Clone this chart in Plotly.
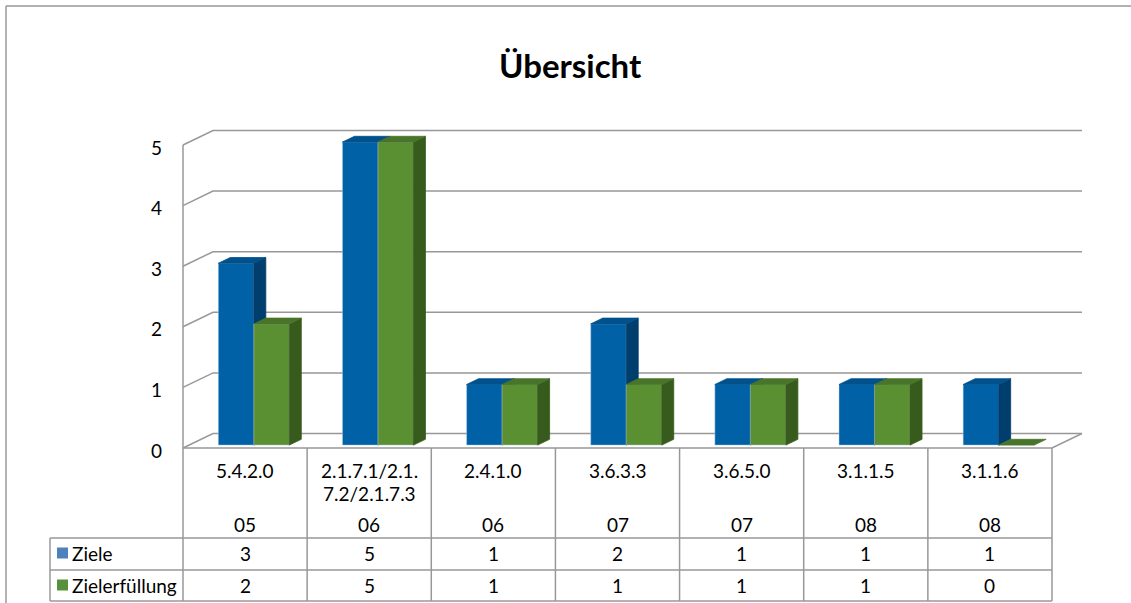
import plotly.graph_objects as go

# ---------------- data ----------------
categories = ["5.4.2.0", "2.1.7.1/2.1.7.2/2.1.7.3", "2.4.1.0", "3.6.3.3", "3.6.5.0", "3.1.1.5", "3.1.1.6"]
months = ["05", "06", "06", "07", "07", "08", "08"]
ziele = [3, 5, 1, 2, 1, 1, 1]
zielerfuellung = [2, 5, 1, 1, 1, 1, 0]
y_ticks = [0, 1, 2, 3, 4, 5]
series_names = ["Ziele", "Zielerfüllung"]
title_text = "Übersicht"

# ---------------- geometry / style ----------------
W, H = 1131, 603
X0_PX, X7_PX = 183, 1052          # front plane left / right edge (pixels)
Y0_PX, UNIT_PX = 448, 60.6        # front floor pixel and pixels per value unit
N = len(categories)
CAT_PX = (X7_PX - X0_PX) / N
x_range = [-X0_PX / CAT_PX, N + (W - X7_PX) / CAT_PX]
y_range = [-(H - Y0_PX) / UNIT_PX, Y0_PX / UNIT_PX]
DX = 30 / CAT_PX                  # full depth offset in x units
DY = 14.5 / UNIT_PX               # full depth offset in y units
GROUP_LEFT = 0.236
BAR_W = 0.286
FONT = "Lato, 'Open Sans', sans-serif"
FS = 19
GRID = "#989898"

face_colors = [
    {"front": "#0061A6", "side": "#003E6D", "top": "#00518C"},
    {"front": "#5A8F32", "side": "#375A1D", "top": "#48752A"},
]
key_colors = ["#4F81BD", "#55903A"]


def px_x(p):
    return p / W


def px_y(p):
    return 1 - p / H


fig = go.Figure()

# gridlines / walls / floor
gx, gy = [], []
for v in y_ticks:
    gx += [0, DX, N + DX, None]
    gy += [v, v + DY, v + DY, None]
gx += [0, 0, None, 0, N, N + DX, None]
gy += [0, max(y_ticks), None, 0, 0, DY, None]
fig.add_trace(go.Scatter(x=gx, y=gy, mode="lines", line=dict(color=GRID, width=1.5),
                         hoverinfo="skip", showlegend=False))

# 3D bars
all_series = [ziele, zielerfuellung]
for s, vals in enumerate(all_series):
    faces = {"front": ([], []), "side": ([], []), "top": ([], [])}
    for i, v in enumerate(vals):
        l = i + GROUP_LEFT + 0.2 * DX + s * BAR_W
        r = l + BAR_W
        b = 0.2 * DY
        t = b + v
        bdx, bdy = 0.4 * DX, 0.4 * DY
        if v > 0:
            faces["front"][0].extend([l, r, r, l, l, None])
            faces["front"][1].extend([b, b, t, t, b, None])
            faces["side"][0].extend([r, r + bdx, r + bdx, r, r, None])
            faces["side"][1].extend([b, b + bdy, t + bdy, t, b, None])
        faces["top"][0].extend([l, r, r + bdx, l + bdx, l, None])
        faces["top"][1].extend([t, t, t + bdy, t + bdy, t, None])
    for face in ["front", "side", "top"]:
        fx, fy = faces[face]
        lc = "rgba(190,210,235,0.6)" if face == "front" else face_colors[s][face]
        fig.add_trace(go.Scatter(x=fx, y=fy, mode="lines", fill="toself",
                                 fillcolor=face_colors[s][face],
                                 line=dict(color=lc, width=0.8),
                                 name=series_names[s], hoverinfo="skip", showlegend=False))

shapes = []
ann = []
line = dict(color=GRID, width=1.5)

# outer chart border (left and top)
shapes.append(dict(type="line", xref="paper", yref="paper", x0=px_x(6), x1=px_x(6), y0=px_y(6), y1=0, line=line))
shapes.append(dict(type="line", xref="paper", yref="paper", x0=px_x(6), x1=1, y0=px_y(6), y1=px_y(6), line=line))

# data table lines
ROW_TOP, ROW_MID, ROW_BOT = 538, 570, 601
for i in range(N + 1):
    shapes.append(dict(type="line", xref="x", yref="paper", x0=i, x1=i,
                       y0=px_y(Y0_PX), y1=px_y(ROW_BOT), line=line))
for yy in [ROW_TOP, ROW_MID, ROW_BOT]:
    shapes.append(dict(type="line", xref="paper", yref="paper", x0=px_x(50), x1=px_x(X7_PX),
                       y0=px_y(yy), y1=px_y(yy), line=line))
shapes.append(dict(type="line", xref="paper", yref="paper", x0=px_x(50), x1=px_x(50),
                   y0=px_y(ROW_TOP), y1=px_y(ROW_BOT), line=line))

# legend keys
for s, (yc) in enumerate([553, 585]):
    shapes.append(dict(type="rect", xref="paper", yref="paper", x0=px_x(57), x1=px_x(68),
                       y0=px_y(yc - 5.5), y1=px_y(yc + 5.5), fillcolor=key_colors[s],
                       line=dict(width=0)))
    ann.append(dict(text=series_names[s], xref="paper", yref="paper", x=px_x(70), y=px_y(yc),
                    xanchor="left", yanchor="middle", showarrow=False,
                    font=dict(family=FONT, size=FS, color="black")))

# y-axis tick labels
for v in y_ticks:
    ann.append(dict(text=str(v), xref="x", yref="y", x=0, y=v, xshift=-19, yshift=-2,
                    xanchor="right", yanchor="middle", showarrow=False,
                    font=dict(family=FONT, size=FS, color="black")))


def wrap(label, width=12):
    return [label[k:k + width] for k in range(0, len(label), width)]


# category labels and table values
for i in range(N):
    for k, part in enumerate(wrap(categories[i])):
        ann.append(dict(text=part, xref="x", yref="paper", x=i + 0.5, y=px_y(470 + 23 * k),
                        xanchor="center", yanchor="middle", showarrow=False,
                        font=dict(family=FONT, size=FS, color="black")))
    ann.append(dict(text=months[i], xref="x", yref="paper", x=i + 0.5, y=px_y(524),
                    xanchor="center", yanchor="middle", showarrow=False,
                    font=dict(family=FONT, size=FS, color="black")))
    for vals, yc in [(ziele, 553), (zielerfuellung, 585)]:
        ann.append(dict(text=str(vals[i]), xref="x", yref="paper", x=i + 0.5, y=px_y(yc),
                        xanchor="center", yanchor="middle", showarrow=False,
                        font=dict(family=FONT, size=FS, color="black")))

# title
ann.append(dict(text="<b>" + title_text + "</b>", xref="paper", yref="paper", x=px_x(570), y=px_y(65),
                xanchor="center", yanchor="middle", showarrow=False,
                font=dict(family=FONT, size=33, color="black")))

fig.update_layout(
    width=W, height=H, autosize=False,
    margin=dict(l=0, r=0, t=0, b=0),
    paper_bgcolor="white", plot_bgcolor="white",
    xaxis=dict(range=x_range, visible=False, fixedrange=True),
    yaxis=dict(range=y_range, visible=False, fixedrange=True),
    shapes=shapes, annotations=ann, showlegend=False,
)

fig.write_html("out.html", config={"displayModeBar": False},
               post_script="document.body.style.margin='0px';document.body.style.overflow='hidden';")
